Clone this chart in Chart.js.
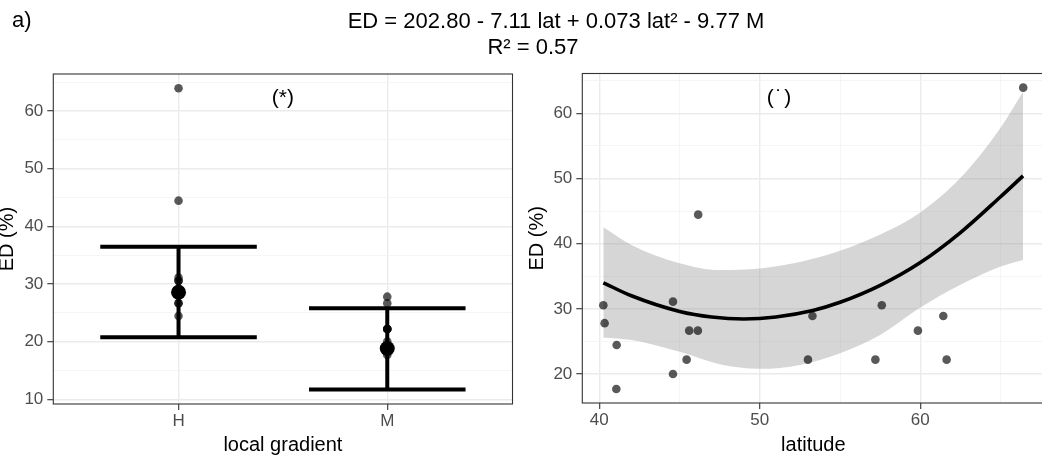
<!DOCTYPE html>
<html>
<head>
<meta charset="utf-8">
<script src="https://cdn.jsdelivr.net/npm/chart.js@4"></script>
<style>
  html, body { margin: 0; padding: 0; background: #fff; }
  body { width: 1042px; height: 464px; overflow: hidden; position: relative;
         font-family: "Liberation Sans", Arial, sans-serif; }
  canvas { position: absolute; top: 0; }
  .txt { position: absolute; white-space: nowrap; font-size: 22px; line-height: 22px; color: #000; }
</style>
</head>
<body>
<canvas id="left" width="520" height="464" style="left:0"></canvas>
<canvas id="right" width="530" height="464" style="left:520px"></canvas>
<div class="txt" style="left:12px;top:9px">a)</div>
<div class="txt" style="left:556px;top:10px;transform:translateX(-50%)">ED = 202.80 - 7.11 lat + 0.073 lat² - 9.77 M</div>
<div class="txt" style="left:533px;top:36px;transform:translateX(-50%)">R² = 0.57</div>
<script>
// ---- data: ED by local gradient ----
const groups = ['H', 'M'];
const groupMean = [28.56, 18.8];
const groupLow = [20.76, 11.7];
const groupHigh = [36.45, 25.8];
const edH = [63.94, 44.45, 31.1, 30.54, 30.54, 28.9, 28.9, 26.65, 26.65, 24.45];
const edM = [27.8, 26.65, 22.2, 22.2, 22.2, 22.2, 20.0, 17.7];

// ---- data: ED by latitude ----
const latitude = [40.25, 40.33, 41.08, 41.06, 44.59, 44.59, 45.44, 45.6, 46.14,
                  46.16, 53.0, 53.28, 57.2, 57.6, 59.85, 61.43, 61.64, 66.41];
const edByLat = [30.54, 27.8, 24.45, 17.7, 31.1, 20.0, 22.2, 26.65, 26.65,
                 44.45, 22.2, 28.9, 22.2, 30.54, 26.65, 28.9, 22.2, 63.94];
const fitLat = [40.25, 42, 45, 47, 49, 51, 53.3, 55, 57.5, 60, 62.5, 65, 66.4];
const fitED = [34.0, 32.0, 29.6, 28.75, 28.45, 28.75, 29.75, 31.0, 33.6, 37.1, 41.7, 47.2, 50.4];
const bandLat = [40.25, 42, 45, 47.5, 50, 52.5, 55, 57.5, 60, 62.5, 65, 66.4];
const bandUpper = [42.5, 39.8, 37.0, 35.95, 36.2, 37.2, 38.9, 41.4, 44.8, 50.1, 57.8, 63.3];
const bandLower = [25.6, 25.2, 23.4, 21.5, 20.8, 21.4, 23.2, 26.0, 30.2, 33.7, 36.5, 37.5];

// ---- axis ticks ----
const leftYGrid = [10, 15, 20, 25, 30, 35, 40, 45, 50, 55, 60, 65];
const leftYLabels = [10, 20, 30, 40, 50, 60];
const rightYGrid = [20, 25, 30, 35, 40, 45, 50, 55, 60, 65];
const rightYLabels = [20, 30, 40, 50, 60];
const latGrid = [40, 45, 50, 55, 60, 65];
const latLabels = [40, 50, 60];

// ---- panel notes ----
const noteText = ['(*)', '(\u200A˙\u200A)'];

const FONT = '"Liberation Sans", Arial, sans-serif';
Chart.defaults.font.family = FONT;

const pts = (xs, ys) => xs.map((x, i) => ({ x, y: ys[i] }));

function gridFor(labels) {
  const major = c => c.tick && labels.includes(c.tick.value);
  return {
    color: c => major(c) ? '#ebebeb' : '#f3f3f3',
    lineWidth: c => major(c) ? 1.4 : 0.8,
    tickColor: c => major(c) ? '#333333' : 'rgba(0,0,0,0)',
    tickWidth: 1.1,
    tickLength: 6,
    drawTicks: true
  };
}

function axis(opts) {
  return {
    type: 'linear',
    min: opts.min,
    max: opts.max,
    afterBuildTicks: s => { s.ticks = opts.grid.map(v => ({ value: v })); },
    afterFit: opts.fit,
    border: { display: false },
    grid: gridFor(opts.labels),
    ticks: {
      autoSkip: false,
      maxRotation: 0,
      color: '#4d4d4d',
      font: { size: 17 },
      padding: opts.tickPad,
      callback: opts.label
    },
    title: {
      display: true,
      text: opts.title,
      color: '#000',
      font: { size: 20, lineHeight: opts.titleLH },
      padding: opts.titlePad
    }
  };
}

const panelBox = {
  id: 'panelBox',
  afterDatasetsDraw(chart) {
    const { ctx, chartArea: a } = chart;
    ctx.save();
    ctx.strokeStyle = '#333333';
    ctx.lineWidth = 1.1;
    ctx.strokeRect(a.left, a.top, a.right - a.left, a.bottom - a.top);
    ctx.restore();
  }
};

const panelNote = {
  id: 'panelNote',
  afterDatasetsDraw(chart, args, o) {
    const { ctx, scales } = chart;
    ctx.save();
    ctx.font = '21px ' + FONT;
    ctx.fillStyle = '#000';
    ctx.textAlign = 'center';
    ctx.textBaseline = 'alphabetic';
    ctx.fillText(o.text, scales.x.getPixelForValue(o.x), scales.y.getPixelForValue(o.y));
    ctx.restore();
  }
};

const common = {
  responsive: false,
  animation: false,
  events: [],
  plugins: { legend: { display: false }, tooltip: { enabled: false } }
};

// error bar outline for each group: top cap, stem, bottom cap
const capHalf = 0.375;
const errorPath = [];
groups.forEach((g, i) => {
  const c = i + 1;
  errorPath.push(
    { x: c - capHalf, y: groupHigh[i] }, { x: c + capHalf, y: groupHigh[i] }, { x: c, y: null },
    { x: c, y: groupHigh[i] }, { x: c, y: groupLow[i] }, { x: c, y: null },
    { x: c - capHalf, y: groupLow[i] }, { x: c + capHalf, y: groupLow[i] }, { x: c, y: null }
  );
});

const rawGroupPoints = [
  ...edH.map(v => ({ x: 1, y: v })),
  ...edM.map(v => ({ x: 2, y: v }))
];

new Chart(document.getElementById('left'), {
  type: 'scatter',
  data: {
    datasets: [
      { data: groups.map((g, i) => ({ x: i + 1, y: groupMean[i] })),
        backgroundColor: '#000', borderWidth: 0, pointRadius: 7.5, order: 0 },
      { data: errorPath, showLine: true, spanGaps: false, borderColor: '#000', borderWidth: 4,
        borderCapStyle: 'butt', pointRadius: 0, order: 1 },
      { data: rawGroupPoints, backgroundColor: 'rgba(0,0,0,0.65)', borderWidth: 0,
        pointRadius: 4.3, order: 2 }
    ]
  },
  options: {
    ...common,
    layout: { padding: { top: 74, left: 0, right: 5, bottom: 0 } },
    plugins: { ...common.plugins, panelNote: { x: 1.5, y: 61.3, text: noteText[0] } },
    scales: {
      x: axis({ min: 0.4, max: 2.6, grid: [1, 2], labels: [1, 2],
                label: v => groups[v - 1], title: 'local gradient', titleLH: 1,
                titlePad: { top: 0, bottom: 9 }, tickPad: 1,
                fit: s => { s.height = 60; } }),
      y: axis({ min: 9.185, max: 66.42, grid: leftYGrid, labels: leftYLabels,
                label: v => leftYLabels.includes(v) ? String(v) : '', title: 'ED (%)',
                titleLH: 0.75, titlePad: 0, tickPad: 4,
                fit: s => { s.width = 53.3; } })
    }
  },
  plugins: [panelBox, panelNote]
});

new Chart(document.getElementById('right'), {
  type: 'scatter',
  data: {
    datasets: [
      { data: pts(latitude, edByLat), backgroundColor: 'rgba(0,0,0,0.65)', borderWidth: 0,
        pointRadius: 4.3, order: 0 },
      { data: pts(fitLat, fitED), showLine: true, borderColor: '#000', borderWidth: 3.6,
        pointRadius: 0, cubicInterpolationMode: 'monotone', order: 1 },
      { data: pts(bandLat, bandUpper), showLine: true, borderColor: 'rgba(0,0,0,0)', borderWidth: 0,
        pointRadius: 0, cubicInterpolationMode: 'monotone', fill: '+1',
        backgroundColor: 'rgba(153,153,153,0.4)', order: 2 },
      { data: pts(bandLat, bandLower), showLine: true, borderColor: 'rgba(0,0,0,0)', borderWidth: 0,
        pointRadius: 0, cubicInterpolationMode: 'monotone', fill: false, order: 3 }
    ]
  },
  options: {
    ...common,
    layout: { padding: { top: 73.5, left: 9.5, right: 5.6, bottom: 0 } },
    plugins: { ...common.plugins, panelNote: { x: 51.2, y: 61.45, text: noteText[1] } },
    scales: {
      x: axis({ min: 38.94, max: 67.73, grid: latGrid, labels: latLabels,
                label: v => latLabels.includes(v) ? String(v) : '', title: 'latitude', titleLH: 1,
                titlePad: { top: 0, bottom: 9 }, tickPad: 1,
                fit: s => { s.height = 61; } }),
      y: axis({ min: 15.55, max: 66.11, grid: rightYGrid, labels: rightYLabels,
                label: v => rightYLabels.includes(v) ? String(v) : '', title: 'ED (%)',
                titleLH: 0.75, titlePad: 0, tickPad: 4,
                fit: s => { s.width = 52.8; } })
    }
  },
  plugins: [panelBox, panelNote]
});
</script>
</body>
</html>
